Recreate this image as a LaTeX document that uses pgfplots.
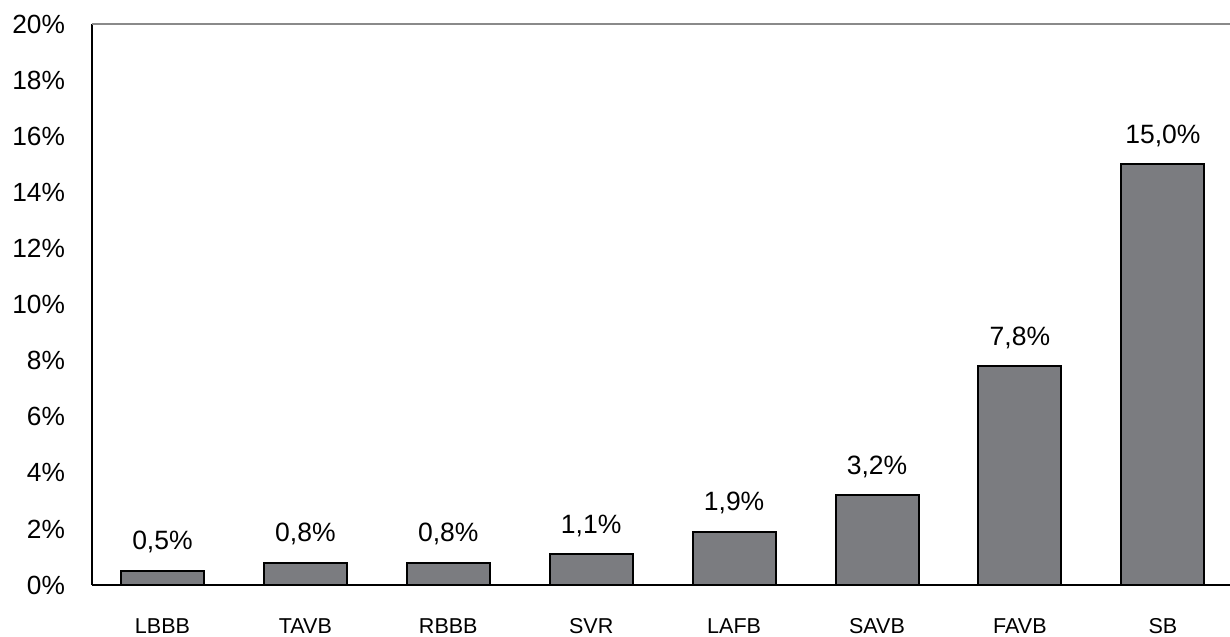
\documentclass[border=0pt]{standalone}
\usepackage{pgfplots}
\pgfplotsset{compat=1.18}
\usepackage{fontspec}
\setmainfont{Liberation Sans}
\definecolor{barGrey}{HTML}{7B7C80}
\definecolor{topGrey}{HTML}{8A8A8A}

\begin{document}
\begin{tikzpicture}
    \begin{axis}[
        name=ax,
        scale only axis,
        width=569bp, height=280.5bp,
        xmin=-0.493, xmax=7.47,
        ymin=0, ymax=20,
        axis x line*=bottom,
        axis y line*=left,
        axis line style={black, line width=1bp},
        major tick length=0pt,
        xtick={0,...,7},
        xticklabels={LBBB,TAVB,RBBB,SVR,LAFB,SAVB,FAVB,SB},
        xticklabel style={font=\fontsize{10.8}{12}\selectfont, text height=8bp, text depth=0pt, yshift=-12.5bp},
        ytick={0,2,...,20},
        yticklabel={\pgfmathprintnumber{\tick}\%},
        yticklabel style={font=\fontsize{13.2}{15}\selectfont, xshift=-10bp},
        /pgf/number format/assume math mode=true,
        ybar,
        bar width=41.5bp,
        nodes near coords={\pgfmathprintnumber[fixed, fixed zerofill, precision=1, use comma]{\pgfplotspointmeta}\%},
        nodes near coords style={font=\fontsize{13.3}{15}\selectfont, anchor=south, yshift=5bp},
        clip=false,
    ]
        % top border line
        \draw[topGrey, line width=1.2bp] (rel axis cs:0,1) -- (rel axis cs:1,1);

        \addplot[fill=barGrey, draw=black, line width=1bp]
            coordinates {(0,0.5)(1,0.8)(2,0.8)(3,1.1)(4,1.9)(5,3.2)(6,7.8)(7,15.0)};
    \end{axis}
    \pgfresetboundingbox
    \path (ax.south west) ++(-46bp,-26bp) coordinate (bl);
    \path (ax.north east) ++(0bp,12bp) coordinate (tr);
    \path[use as bounding box] (bl) rectangle (tr);
\end{tikzpicture}
\end{document}
